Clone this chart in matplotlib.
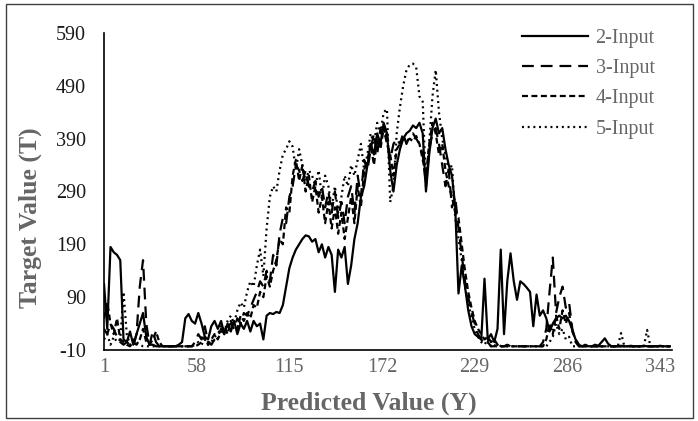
import numpy as np
import matplotlib
matplotlib.use('Agg')
import matplotlib.pyplot as plt
from matplotlib.patches import Rectangle

# categories 1..349, every second one
x = np.arange(1, 350, 2)

two_input = [
    115, 30, 185, 175, 170, 160, 10, 5, 25, 0, 20, 40, 60, 15, 0, 0, -3, -3, -3, -3, -3, -3, -3, 0, 5,
    50, 58, 45, 40, 60, 40, 15, 10, 35, 45, 30, 45, 20, 40, 25, 45, 20, 40, 30, 45, 25, 45, 35, 40, 10,
    55, 60, 58, 62, 60, 75, 110, 145, 165, 180, 190, 200, 207, 205, 195, 200, 175, 190, 165, 185, 170, 100, 180, 165, 185,
    115, 150, 200, 230, 280, 300, 340, 380, 360, 400, 380, 420, 400, 330, 290, 340, 370, 390, 400, 405, 415, 410, 420, 400, 290,
    360, 410, 428, 400, 410, 370, 340, 320, 260, 97, 150, 110, 65, 35, 20, 15, 10, 125, 10, 20, 5, 30, 180, 20, 120,
    173, 120, 85, 120, 115, 108, 100, 35, 95, 55, 65, 50, 25, 40, 50, 55, 50, 55, 45, 28, 10, 0, -3, 0, -3,
    -3, 0, -2, 5, 12, 2, -3, -3, -3, -2, -3, -3, -2, -3, -3, -3, -2, -3, -3, -3, -3, -2, -3, -3, -3,
]
three_input = [
    30, 20, 40, 30, 15, 5, 0, 5, 0, -3, 20, 110, 160, 40, 0, 25, 5, -3, -3, -3, -3, -3, -3, -3, -3,
    -3, -3, -3, 5, 20, 10, 35, 5, 0, 10, 15, 30, 20, 35, 40, 30, 50, 40, 60, 55, 70, 85, 100, 120, 110,
    140, 120, 170, 150, 210, 240, 230, 280, 300, 340, 330, 310, 330, 300, 290, 310, 280, 300, 260, 290, 250, 290, 240, 270, 230,
    280, 300, 250, 320, 280, 350, 330, 370, 400, 360, 410, 390, 400, 350, 380, 390, 380, 400, 380, 395, 400, 390, 380, 360, 300,
    370, 400, 410, 380, 340, 300, 330, 260, 280, 220, 170, 120, 90, 60, 40, 20, 10, 0, 5, -3, -3, 5, -3, -3, 0,
    -3, -3, -3, -3, -3, -3, -3, -3, -3, -3, 5, 30, 100, 165, 60, 90, 110, 70, 80, 30, 5, -3, -3, -3, -3,
    -3, -3, -3, -3, -3, -3, -3, -3, -3, -3, -3, -3, -3, -3, -3, -3, -3, -3, -3, -3, -3, -3, -3, -3, -3,
]
four_input = [
    50, 80, 40, 20, 50, 10, 5, 0, -3, 5, 0, 10, 30, 5, 0, 10, 25, 5, -3, -3, -3, -3, -3, -3, -3,
    -3, -3, -3, -3, 0, 5, 15, 0, 10, 20, 10, 25, 35, 20, 45, 35, 30, 55, 45, 60, 50, 75, 70, 100, 90,
    130, 110, 140, 160, 200, 190, 260, 250, 320, 350, 310, 340, 290, 320, 270, 300, 250, 280, 230, 270, 220, 260, 210, 250, 200,
    240, 280, 230, 300, 260, 330, 350, 380, 340, 390, 370, 410, 380, 360, 320, 370, 380, 390, 385, 390, 385, 395, 380, 350, 320,
    380, 420, 400, 360, 380, 330, 300, 280, 250, 240, 190, 140, 100, 70, 45, 30, 20, 10, 15, 5, 10, 0, -3, -3, -3,
    -3, -3, -3, -3, -3, -3, -3, -3, -3, -3, -3, 10, 40, 20, 55, 30, 65, 40, 60, 25, 10, 0, -3, -3, -3,
    -3, -3, -3, -3, -3, -3, -3, -3, -3, -3, -3, -3, -3, -3, -3, -3, -3, -3, -3, -3, -3, -3, -3, -3, -3,
]
five_input = [
    10, 20, 0, 15, 5, 10, 100, 20, 0, 10, 5, 0, -3, -3, -3, -3, -3, -3, -3, -3, -3, -3, -3, -3, -3,
    -3, -3, -3, 0, 5, 0, 10, 0, 5, 15, 20, 35, 25, 45, 55, 40, 65, 80, 70, 100, 120, 110, 150, 180, 130,
    220, 280, 300, 290, 330, 360, 370, 385, 375, 330, 370, 340, 310, 330, 320, 300, 330, 280, 320, 300, 260, 300, 250, 280, 320,
    300, 340, 320, 350, 380, 330, 360, 400, 380, 420, 400, 440, 446, 270, 300, 400, 450, 490, 520, 530, 532, 525, 470, 460, 300,
    380, 470, 520, 440, 390, 360, 330, 340, 240, 200, 160, 110, 80, 50, 30, 15, 5, 0, 10, -3, -3, -3, -3, -3, -3,
    -3, -3, -3, -3, -3, -3, -3, -3, -3, -3, -3, -3, 5, 15, 40, 20, 30, 10, 15, -3, -3, -3, -3, -3, -3,
    -3, -3, -3, -3, -3, -3, -3, -3, -3, 22, -3, -3, -3, -3, -3, -3, -3, 28, -3, -3, -3, -3, -3, -3, -3,
]

series_names = ['2-Input', '3-Input', '4-Input', '5-Input']
x_ticks = [1, 58, 115, 172, 229, 286, 343]
y_ticks = [-10, 90, 190, 290, 390, 490, 590]

plt.rcParams['font.family'] = 'Liberation Serif'
plt.rcParams['lines.scale_dashes'] = False
plt.rcParams['axes.unicode_minus'] = False

W, H = 698, 421
fig = plt.figure(figsize=(W / 100, H / 100), dpi=100)
ax = fig.add_axes([104 / W, 1 - 350 / H, (671.5 - 104) / W, (350 - 33) / H])

styles = ['-', (0, (8.5, 5)), (0, (4.3, 2.5)), (0, (1.4, 2.7))]
for vals, name, ls in zip([two_input, three_input, four_input, five_input], series_names, styles):
    ax.plot(x, vals, color='black', lw=1.6, linestyle=ls, label=name)

ax.set_xlim(1, 350)
ax.set_ylim(-10, 590)
ax.set_xticks(x_ticks)
ax.set_yticks(y_ticks)
for s in ['top', 'right']:
    ax.spines[s].set_visible(False)
for s in ['left', 'bottom']:
    ax.spines[s].set_color('black')
    ax.spines[s].set_linewidth(1.2)
ax.tick_params(axis='y', length=0, pad=13, labelsize=14.5, labelcolor='#1a1a1a')
ax.tick_params(axis='x', length=0, pad=6, labelsize=14.5, labelcolor='#666666')

fig.text(30 / W, 1 - 218 / H, 'Target Value (T)', rotation=90, ha='center', va='center',
         fontsize=18.5, fontweight='bold', color='#666666')
fig.text(369 / W, 1 - 403 / H, 'Predicted Value (Y)', ha='center', va='center',
         fontsize=18.5, fontweight='bold', color='#666666')

ax.legend(loc='upper left', bbox_to_anchor=(522 / W, 1 - 29 / H), bbox_transform=fig.transFigure,
          frameon=False, fontsize=14.5, labelcolor='#666666', handlelength=3.3,
          handletextpad=0.35, labelspacing=0.55, borderpad=0, borderaxespad=0)

fig.add_artist(Rectangle((6 / W, 3 / H), 687 / W, 414 / H, transform=fig.transFigure,
                         fill=False, edgecolor='#3f3f3f', lw=1))

fig.savefig('out.png', dpi=100)
